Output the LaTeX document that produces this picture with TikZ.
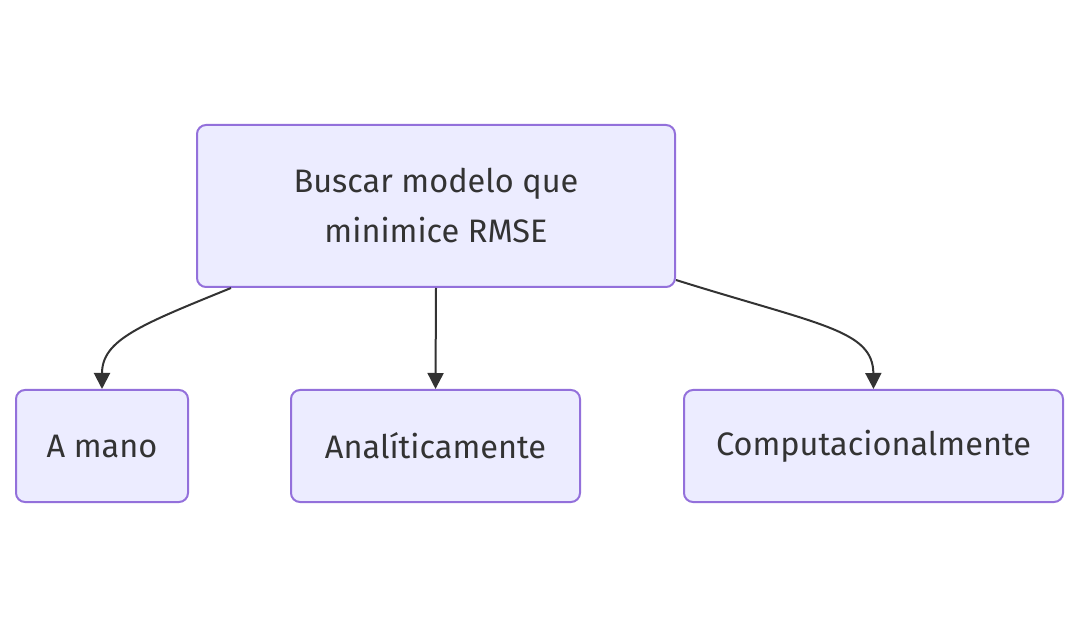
\documentclass[tikz,border=0pt]{standalone}
\usepackage{fontspec}
\setmainfont{Fira Sans}
\usetikzlibrary{calc,arrows.meta}
\definecolor{boxfill}{HTML}{ECECFF}
\definecolor{boxline}{HTML}{9370DB}
\definecolor{txt}{HTML}{333333}
\begin{document}
\begin{tikzpicture}[x=1pt,y=-1pt,
  box/.style={draw=boxline,fill=boxfill,line width=2pt,rounded corners=9pt,
    text=txt,align=center,inner sep=0pt,
    font=\fontsize{32.5}{50}\selectfont},
  conn/.style={draw=txt,line width=2pt,-{Triangle[length=16pt,width=16pt]}}]
\useasboundingbox (0,0) rectangle (1080,628);
\node[box,minimum width=478pt,minimum height=162pt] (top) at (436,206) {Buscar modelo que\\minimice RMSE};
\node[box,minimum width=172pt,minimum height=112pt] (amano) at (102,446) {A mano};
\node[box,minimum width=289pt,minimum height=112pt] (anal) at (435.5,446) {Analíticamente};
\node[box,minimum width=379pt,minimum height=112pt] (comp) at (873.5,446) {Computacionalmente};
\coordinate (ls) at ($(top.south west)+(35,0)$);
\coordinate (rs) at ($(top.south east)+(0,-8)$);
\draw[conn] (ls) .. controls (140,325) and (102,340) .. (amano.north);
\draw[conn] (top.south) -- (anal.north);
\draw[conn] (rs) .. controls (820,325) and (873,330) .. (comp.north);
\end{tikzpicture}
\end{document}
